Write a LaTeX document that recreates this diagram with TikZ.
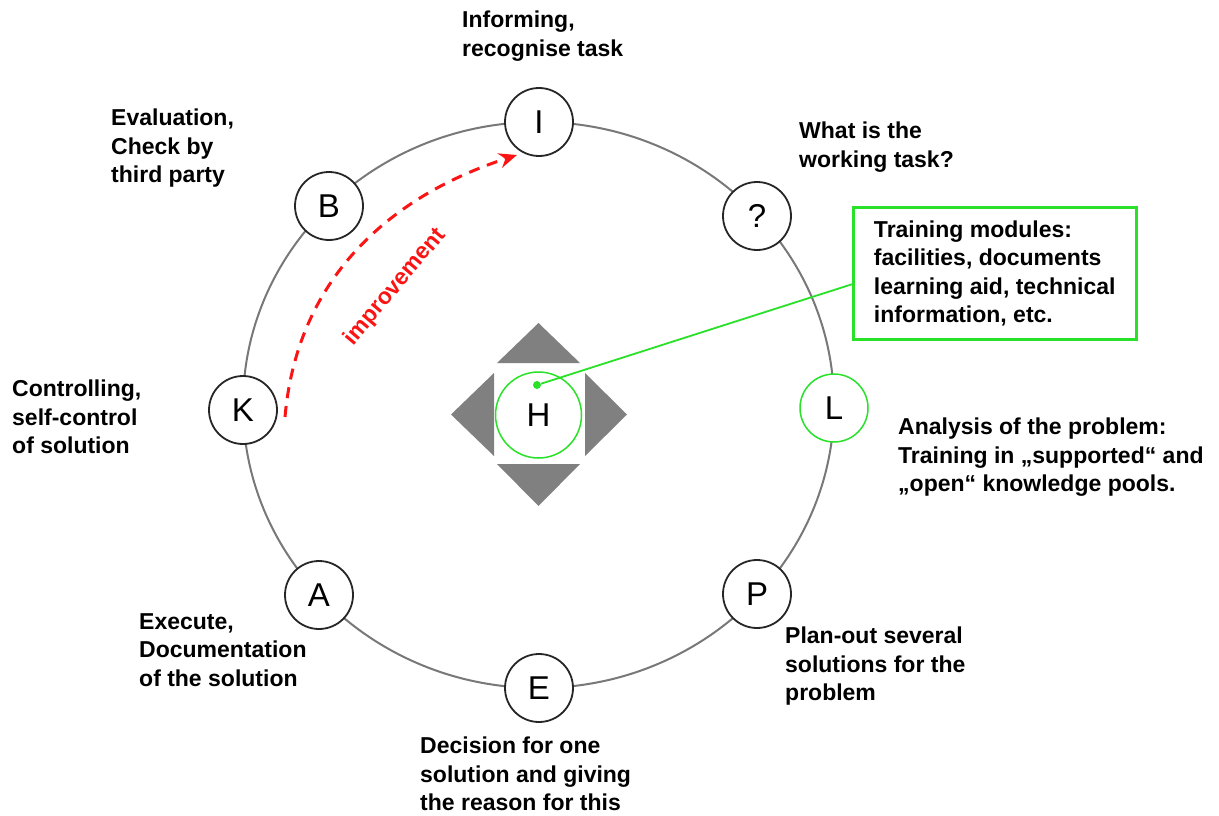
\documentclass[tikz,border=0pt]{standalone}
\usepackage{fontspec}
\setmainfont{Liberation Sans}
\usetikzlibrary{arrows.meta}

\definecolor{ringgray}{RGB}{120,120,120}
\definecolor{boxgreen}{RGB}{40,225,40}
\definecolor{arrowred}{RGB}{250,20,20}
\definecolor{wedgegray}{RGB}{128,128,128}

\begin{document}
\begin{tikzpicture}[x=1pt,y=1pt,
    phase/.style={circle, draw=black!85, line width=1.8pt, fill=white, minimum size=68pt, inner sep=0pt, font=\fontsize{33}{33}\selectfont},
    caption/.style={anchor=north west, inner sep=0pt, align=left, font=\fontsize{23}{28.5}\selectfont\bfseries},
    infobox/.style={draw=boxgreen, line width=2.5pt, anchor=north west, minimum width=283pt, minimum height=132pt, inner xsep=19pt, align=left, font=\fontsize{23}{28.5}\selectfont\bfseries},
    wedge/.style={fill=wedgegray, draw=none},
    ring/.style={draw=ringgray, line width=2pt},
    greenline/.style={draw=boxgreen, line width=1.8pt},
    improve/.style={draw=arrowred, line width=3pt, dash pattern=on 11pt off 8pt, -{Stealth[length=18pt,width=15pt]}}]
        \useasboundingbox (0,0) rectangle (1219,-816);

        % Ring
        \draw[ring] (538.5,-405) ellipse [x radius=295.5, y radius=283];

        % Phases
        \node[phase] (I) at (539,-122) {I};
        \node[phase] (Q) at (757,-216) {?};
        \node[phase, draw=boxgreen, line width=1.5pt] (L) at (834,-408) {L};
        \node[phase] (P) at (757,-594) {P};
        \node[phase] (E) at (539,-688) {E};
        \node[phase] (A) at (319,-595) {A};
        \node[phase] (K) at (243,-410) {K};
        \node[phase] (B) at (329,-206) {B};

        % Centre
        \fill[wedge] (538.5,-323) -- (580,-363) -- (497,-363) -- cycle;
        \fill[wedge] (538.5,-506) -- (580,-464) -- (497,-464) -- cycle;
        \fill[wedge] (451,-414.5) -- (494,-373) -- (494,-456) -- cycle;
        \fill[wedge] (627,-414.5) -- (585,-373) -- (585,-456) -- cycle;
        \node[phase, draw=boxgreen, line width=1.5pt, minimum size=86pt, fill=none] (H) at (538.5,-415) {H};
        \node[circle, fill=boxgreen, inner sep=0pt, minimum size=8pt] (dot) at (537,-385) {};

        \node[infobox] (modules) at (852,-206) {Training modules:\\facilities, documents\\learning aid, technical\\information, etc.};
        \draw[greenline] (dot) -- ([yshift=-11pt]modules.west);

        % Labels
        \node[caption] (informing) at (462,-11) {Informing,\\recognise task};
        \node[caption] (evaluation) at (111,-109) {Evaluation,\\Check by\\third party};
        \node[caption] (question) at (799,-122) {What is the\\working task?};
        \node[caption] (controlling) at (12,-380) {Controlling,\\self-control\\of solution};
        \node[caption] (analysis) at (898,-418) {Analysis of the problem:\\Training in „supported“ and\\„open“ knowledge pools.};
        \node[caption] (execute) at (139,-613) {Execute,\\Documentation\\of the solution};
        \node[caption] (planout) at (785,-627) {Plan-out several\\solutions for the\\problem};
        \node[caption] (decision) at (420,-737) {Decision for one\\solution and giving\\the reason for this};

        % Improvement
        \coordinate (impstart) at (285,-417);
        \coordinate (imptip) at (517,-155);
        \draw[improve] (impstart) to[out=85,in=198] (imptip);
        \node[rotate=50, text=arrowred, font=\fontsize{23}{28.5}\selectfont\bfseries] (improvement) at (395,-287) {improvement};
\end{tikzpicture}
\end{document}
